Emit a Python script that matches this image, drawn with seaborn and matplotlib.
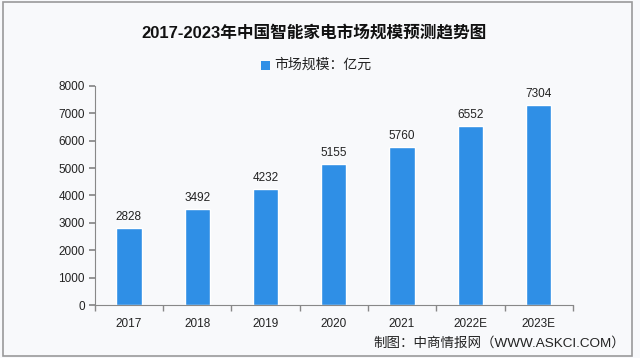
import pandas as pd
import numpy as np
import seaborn as sns
import matplotlib.pyplot as plt
from matplotlib.patches import Rectangle

# data
years = ["2017", "2018", "2019", "2020", "2021", "2022E", "2023E"]
market_size = [2828, 3492, 4232, 5155, 5760, 6552, 7304]
y_ticks = [0, 1000, 2000, 3000, 4000, 5000, 6000, 7000, 8000]

title = "2017-2023年中国智能家电市场规模预测趋势图"
legend_label = "市场规模：亿元"
source = "制图：中商情报网（WWW.ASKCI.COM）"

bar_color = "#2f8fe6"
bg_color = "#f8f9fb"

sns.set_theme(style="white")
plt.rcParams["font.family"] = ["Liberation Sans", "Noto Sans CJK SC", "DejaVu Sans"]

df = pd.DataFrame({"year": years, "value": market_size})

fig = plt.figure(figsize=(6.4, 3.58), dpi=100, facecolor=bg_color)
ax = fig.add_axes([0.148, 0.148, 0.747, 0.612])
ax.set_facecolor(bg_color)

sns.barplot(data=df, x="year", y="value", color=bar_color, width=0.37,
            saturation=1, ax=ax)

# value labels
for i, v in enumerate(market_size):
    ax.text(i, v + 180, str(v), ha="center", va="bottom", fontsize=8.5,
            color="#222222")

ax.set_xlim(-0.5, len(years) - 0.5)
ax.set_ylim(0, 8000)
ax.set_yticks(y_ticks)
ax.set_yticklabels([str(t) for t in y_ticks], fontsize=8.5, color="#222222")
ax.set_xticks(range(len(years)))
ax.set_xticklabels(years, fontsize=8.5, color="#222222")
ax.set_xticks(np.arange(-0.5, len(years)), minor=True)
ax.tick_params(axis="x", which="major", length=0, pad=9)
ax.tick_params(axis="x", which="minor", length=4, color="#888888", direction="out", bottom=True)
ax.tick_params(axis="y", length=4, color="#888888", direction="out", left=True, pad=3)
ax.set_xlabel("")
ax.set_ylabel("")
for s in ["top", "right"]:
    ax.spines[s].set_visible(False)
for s in ["left", "bottom"]:
    ax.spines[s].set_color("#888888")
    ax.spines[s].set_linewidth(0.8)

fig.text(0.49, 0.91, title, ha="center", va="center", fontsize=12,
         fontweight="bold", color="#111111")
fig.patches.append(Rectangle((0.408, 0.805), 0.014, 0.026, transform=fig.transFigure,
                             facecolor=bar_color, edgecolor="none"))
fig.text(0.428, 0.818, legend_label, ha="left", va="center", fontsize=10,
         color="#222222")
fig.text(0.977, 0.042, source, ha="right", va="center", fontsize=9.7,
         color="#222222")

# frame
fig.patches.append(Rectangle((0.004, 0.006), 0.984, 0.988, transform=fig.transFigure,
                             facecolor="none", edgecolor="#9a9a9a", linewidth=1.2))

fig.savefig("out.png", dpi=100, facecolor=bg_color)
